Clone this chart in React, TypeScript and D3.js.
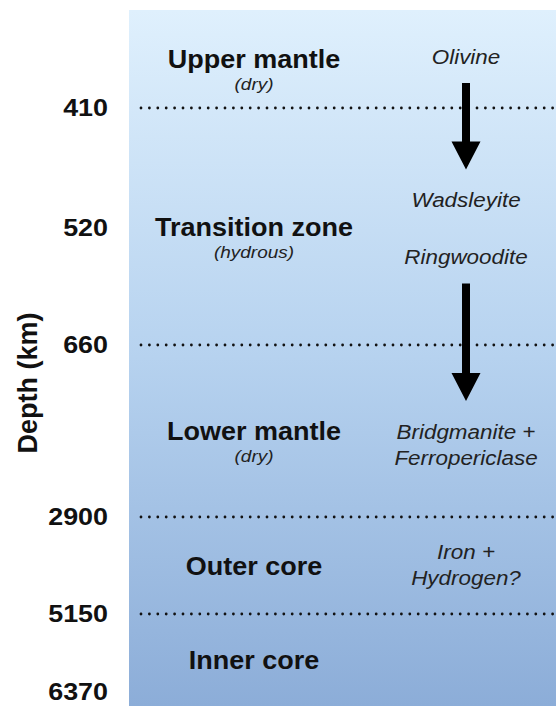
import React from "react";
import * as d3 from "d3";

// depth labels on the left (km) and the dotted boundaries
const depthTicks = [410, 520, 660, 2900, 5150, 6370];
const boundaries = [410, 660, 2900, 5150];

// layers
const layerNames = ["Upper mantle", "Transition zone", "Lower mantle", "Outer core", "Inner core"];
const layerNotes = ["(dry)", "(hydrous)", "(dry)", "", ""];
const layerTops = [0, 410, 660, 2900, 5150];
const layerBottoms = [410, 660, 2900, 5150, 6370];
const minerals = [
  ["Olivine"],
  ["Wadsleyite", "Ringwoodite"],
  ["Bridgmanite +", "Ferropericlase"],
  ["Iron +", "Hydrogen?"],
  [],
];
// [fromLayer, fromLine, toLayer, toLine]
const transitions = [
  [0, 0, 1, 0],
  [1, 1, 2, 0],
];

const W = 556;
const H = 706;
const panelX = 129;
const panelTop = 10;

// schematic (not to scale) depth axis
const y = d3
  .scaleLinear()
  .domain([0, 410, 520, 660, 2900, 5150, 6370])
  .range([panelTop, 108, 228, 345, 517, 614, 706]);

const nameX = 254;
const mineralX = 466;
const tickX = 108;

// vertical placement of mineral lines relative to layer middle
const mineralOffsets = [[-2], [-26, 31], [1, 27], [-13, 13], []];

const FONT = "'Liberation Sans', Arial, Helvetica, sans-serif";

function Stretch({ x, yy, sx, children, ...rest }: any) {
  return (
    <g transform={`translate(${x},${yy}) scale(${sx},1)`}>
      <text {...rest}>{children}</text>
    </g>
  );
}

export default function App() {
  const mid = (i: number) => (y(layerTops[i]) + y(layerBottoms[i])) / 2;
  const mineralY = (l: number, k: number) => mid(l) + mineralOffsets[l][k];

  const arrow = (x: number, y0: number, y1: number) => {
    const shaft = 4;
    const head = 14.5;
    const headLen = 28;
    const p = d3.path();
    p.moveTo(x - shaft, y0);
    p.lineTo(x + shaft, y0);
    p.lineTo(x + shaft, y1 - headLen);
    p.lineTo(x + head, y1 - headLen);
    p.lineTo(x, y1);
    p.lineTo(x - head, y1 - headLen);
    p.lineTo(x - shaft, y1 - headLen);
    p.closePath();
    return p.toString();
  };

  return (
    <svg
      width={W}
      height={H}
      style={{ position: "absolute", left: 0, top: 0, display: "block" }}
      fontFamily={FONT}
    >
      <defs>
        <linearGradient id="bg" x1="0" y1="0" x2="0" y2="1">
          <stop offset="0" stopColor="#dff0fd" />
          <stop offset="0.5" stopColor="#b6d2ef" />
          <stop offset="1" stopColor="#8cadd8" />
        </linearGradient>
      </defs>
      <rect x={0} y={0} width={W} height={H} fill="#fff" />
      <rect x={panelX} y={panelTop} width={W - panelX} height={H - panelTop} fill="url(#bg)" />

      {boundaries.map((d) => (
        <line
          key={d}
          x1={141}
          x2={W}
          y1={y(d)}
          y2={y(d)}
          stroke="#111"
          strokeWidth={2.8}
          strokeLinecap="round"
          strokeDasharray="0 8.4"
        />
      ))}

      {depthTicks.map((d) => (
        <Stretch
          key={d}
          x={tickX}
          yy={Math.min(y(d), H - 14)}
          sx={1.12}
          textAnchor="end"
          dominantBaseline="central"
          fontSize={24}
          fontWeight="bold"
          fill="#111"
        >
          {d}
        </Stretch>
      ))}

      <text
        transform={`translate(28,383) rotate(-90)`}
        textAnchor="middle"
        dominantBaseline="central"
        fontSize={27}
        fontWeight="bold"
        fill="#111"
      >
        Depth (km)
      </text>

      {layerNames.map((name, i) => (
        <g key={name}>
          <Stretch
            x={nameX}
            yy={mid(i) + 9}
            sx={1.08}
            textAnchor="middle"
            fontSize={25}
            fontWeight="bold"
            fill="#111"
          >
            {name}
          </Stretch>
          {layerNotes[i] && (
            <Stretch
              x={nameX}
              yy={mid(i) + 31}
              sx={1.15}
              textAnchor="middle"
              fontSize={16.5}
              fontStyle="italic"
              fill="#222"
            >
              {layerNotes[i]}
            </Stretch>
          )}
          {minerals[i].map((m, k) => (
            <Stretch
              key={m}
              x={mineralX}
              yy={mineralY(i, k)}
              sx={1.15}
              textAnchor="middle"
              dominantBaseline="central"
              fontSize={19.5}
              fontStyle="italic"
              fill="#222"
            >
              {m}
            </Stretch>
          ))}
        </g>
      ))}

      {transitions.map(([a, ka, b, kb], i) => (
        <path
          key={i}
          d={arrow(mineralX, mineralY(a, ka) + 26, mineralY(b, kb) - 31)}
          fill="#000"
        />
      ))}
    </svg>
  );
}
